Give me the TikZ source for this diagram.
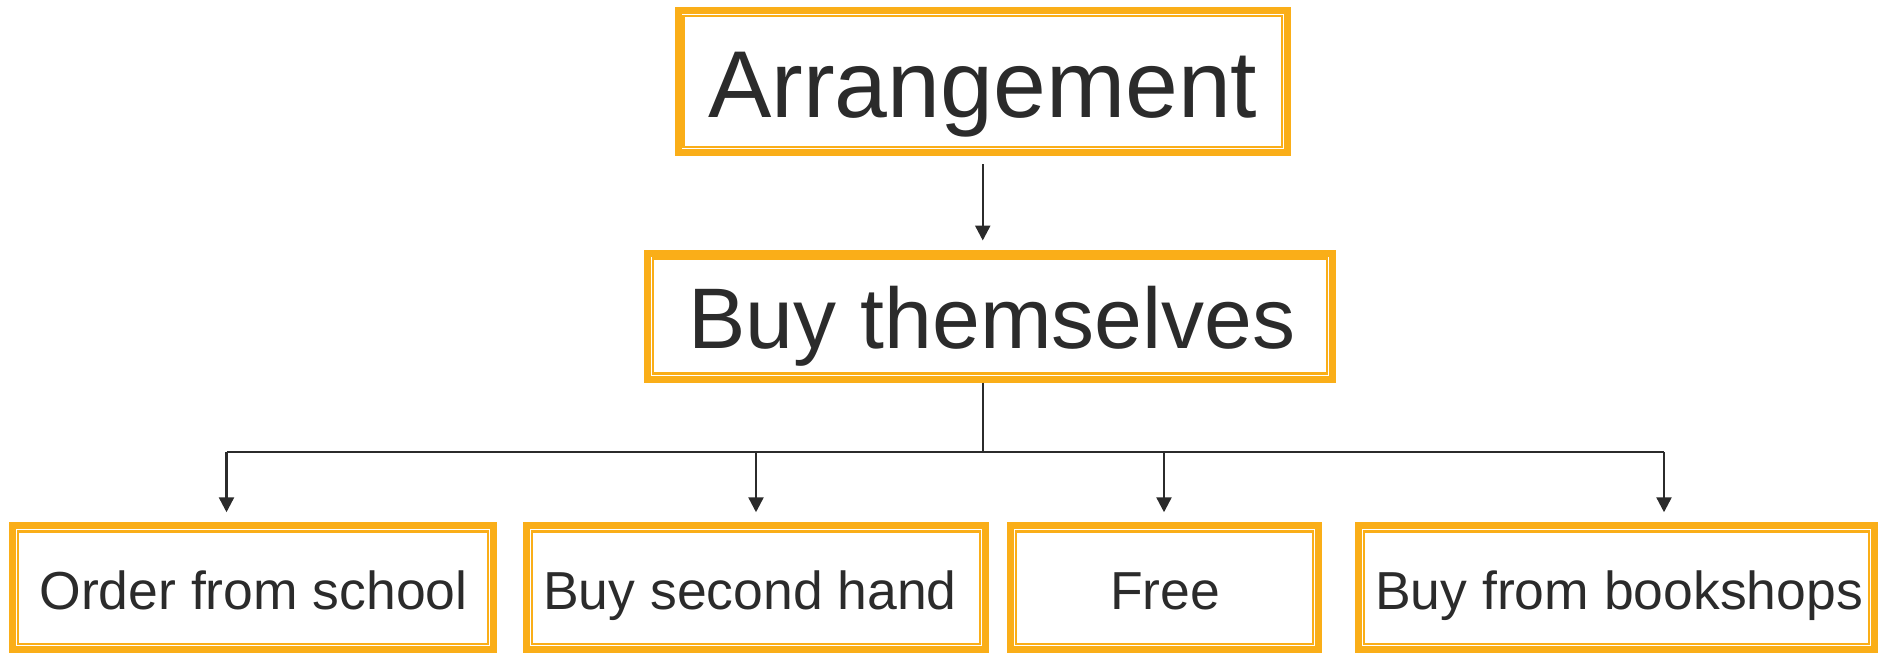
\documentclass[tikz,border=0pt]{standalone}
\usepackage{fontspec}
\setmainfont{Liberation Sans}
\usetikzlibrary{arrows.meta,calc}
\definecolor{org}{RGB}{250,174,24}
\definecolor{ink}{RGB}{43,43,43}
\tikzset{
  boxframe/.style={draw=org, line width=7pt, rectangle, inner sep=0pt},
  innerline/.style={draw=org, line width=2.5pt},
  lbl/.style={text=ink, anchor=base, inner sep=0pt},
  conn/.style={draw=ink, line width=2.5pt},
  arr/.style={conn, -{Triangle[length=15pt,width=15pt]}},
  bigfont/.style={font=\fontsize{95}{100}\selectfont},
  midfont/.style={font=\fontsize{86}{90}\selectfont},
  smallfont/.style={font=\fontsize{53.5}{58}\selectfont},
}
\newcommand\orgframe[1]{\draw[innerline] ($(#1.north west)+(9,-9)$) rectangle ($(#1.south east)+(-9,9)$);}
\begin{document}
\begin{tikzpicture}[x=1pt,y=1pt]
\useasboundingbox (0,0) rectangle (1878,-653);
% top
\node[boxframe, minimum width=609.5pt, minimum height=142pt] (A) at (982.75,-81.5) {};
\orgframe{A}
\node[lbl, bigfont] (tA) at (982.75,-117.3) {Arrangement};
% middle
\node[boxframe, minimum width=685pt, minimum height=126pt] (B) at (990,-316) {};
\orgframe{B}
\node[lbl, midfont] (tB) at (992,-348) {Buy themselves};
% bottom
\node[boxframe, minimum width=481pt, minimum height=123.5pt] (C1) at (253,-587.5) {};
\orgframe{C1}
\node[lbl, smallfont] (t1) at (253.5,-609) {Order from school};
\node[boxframe, minimum width=459pt, minimum height=123.5pt] (C2) at (756,-587.5) {};
\orgframe{C2}
\node[lbl, smallfont] (t2) at (750,-609) {Buy second hand};
\node[boxframe, minimum width=308pt, minimum height=123.5pt] (C3) at (1164.5,-587.5) {};
\orgframe{C3}
\node[lbl, smallfont] (t3) at (1165,-609) {Free};
\node[boxframe, minimum width=516pt, minimum height=123.5pt] (C4) at (1616.5,-587.5) {};
\orgframe{C4}
\node[lbl, smallfont] (t4) at (1619,-609) {Buy from bookshops};
% connectors
\coordinate (bus) at (983,-452);
\coordinate (x1) at (226.5,-452);
\coordinate (x2) at (756,-452);
\coordinate (x3) at (1164,-452);
\coordinate (x4) at (1664,-452);
\draw[arr] ([yshift=-8pt]A.south) -- ([yshift=9pt]A.south |- B.north);
\draw[conn] (bus |- B.south) -- (bus);
\draw[conn] (x1) -- (x4);
\draw[arr] (x1) -- ([yshift=10pt]x1 |- C1.north);
\draw[arr] (x2) -- ([yshift=10pt]x2 |- C2.north);
\draw[arr] (x3) -- ([yshift=10pt]x3 |- C3.north);
\draw[arr] (x4) -- ([yshift=10pt]x4 |- C4.north);
\end{tikzpicture}
\end{document}
